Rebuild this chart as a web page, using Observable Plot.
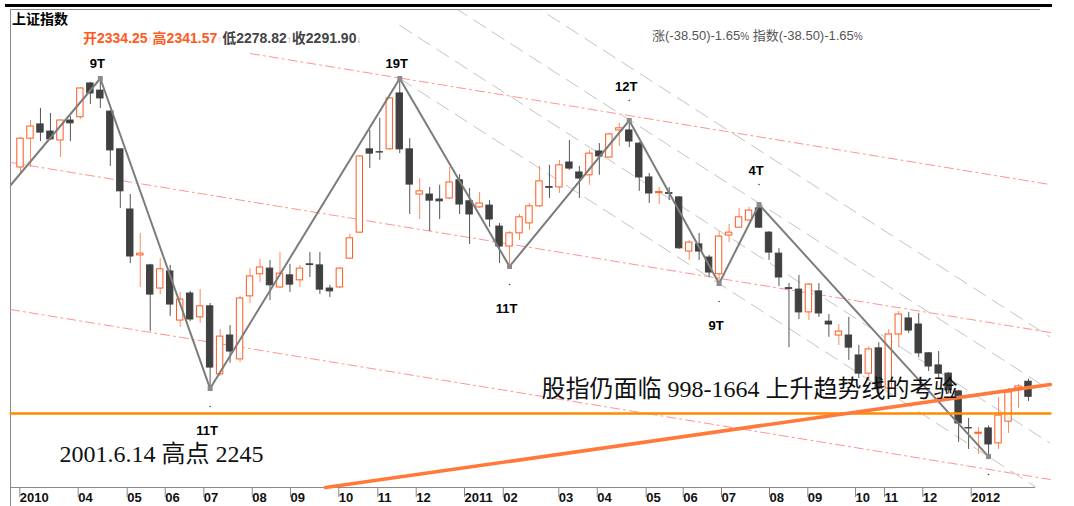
<!DOCTYPE html>
<html><head><meta charset="utf-8">
<script src="https://cdn.jsdelivr.net/npm/d3@7"></script>
<script src="https://cdn.jsdelivr.net/npm/@observablehq/plot@0.6"></script>
<style>
body{margin:0;background:#fff;}
#wrap{position:relative;width:1074px;height:506px;overflow:hidden;font-family:"Liberation Sans",Arial,"Noto Sans CJK SC",sans-serif;}
#wrap svg{position:absolute;left:0;top:0;}
.deco{position:absolute;background:#8a8a8a;}
#title{position:absolute;left:12px;top:11px;font-weight:bold;font-size:14px;line-height:16px;color:#000;}
#ohlc{position:absolute;left:83px;top:30px;font-weight:bold;font-size:14px;line-height:16px;white-space:nowrap;}
#ohlc .ar{font-size:10px;font-weight:normal;}
#chg{position:absolute;left:652px;top:28px;font-size:13px;line-height:16px;color:#555;white-space:nowrap;}
</style></head>
<body>
<div id="wrap">
  <div class="deco" style="left:5px;top:4px;width:1047px;height:3px;background:#000"></div>
  <div class="deco" style="left:10px;top:9px;width:1px;height:497px"></div>
  <div class="deco" style="left:10px;top:9px;width:1030px;height:1px"></div>
  <div class="deco" style="left:10px;top:487px;width:1025px;height:1px"></div>
</div>
<script>
// ---- weekly candles (上证指数, Feb 2010 – Feb 2012) ----
const candleOpen  = [2936,3017,3057,3037,3012,3068,3077,3172,3152,3093,2987,2818,2689,2661,2596,2644,2506,2582,2515,2546,
  2355,2464,2397,2574,2636,2652,2599,2633,2619,2664,2661,2596,2599,2680,2753,2987,2979,2987,3144,2987,
  2860,2860,2846,2849,2900,2841,2824,2829,2770,2714,2751,2779,2827,2881,2880,2950,2922,2914,2981,2964,
  3040,3040,3003,2908,2864,2864,2852,2700,2720,2683,2636,2745,2767,2787,2821,2753,2694,2597,2593,2529,
  2588,2503,2464,2464,2408,2357,2428,2315,2467,2512,2495,2414,2380,2357,2307,2204,2188,2203,2161,2222,
  2315,2334.25];
const candleHigh  = [3020,3068,3102,3088,3070,3079,3160,3175,3186,3096,2987,2860,2751,2664,2680,2661,2585,2588,2593,2554,
  2481,2492,2574,2652,2678,2675,2697,2664,2661,2697,2697,2605,2655,2748,2970,3040,3074,3133,3186,3017,
  2905,2880,2886,2936,2916,2877,2866,2843,2779,2756,2804,2835,2939,2942,2956,3012,2939,2984,3003,3032,
  3060,3068,3006,2919,2880,2880,2854,2731,2751,2689,2756,2776,2821,2824,2832,2756,2708,2610,2633,2610,
  2610,2523,2495,2515,2436,2433,2444,2481,2532,2529,2526,2416,2419,2360,2310,2231,2206,2210,2290,2315,
  2327,2341.57];
const candleLow   = [2919,2936,3009,3012,2964,3009,3071,3113,3102,2939,2821,2666,2599,2475,2579,2518,2487,2503,2498,2315,
  2349,2386,2388,2554,2613,2562,2596,2585,2599,2627,2579,2571,2596,2678,2750,2933,2956,2984,2975,2804,
  2790,2756,2790,2846,2804,2720,2821,2768,2666,2658,2731,2759,2824,2849,2863,2928,2849,2886,2914,2962,
  2995,2992,2869,2835,2832,2843,2706,2675,2675,2627,2610,2725,2765,2784,2765,2675,2602,2430,2509,2506,
  2515,2459,2436,2394,2343,2335,2296,2290,2430,2470,2402,2363,2343,2300,2164,2144,2130,2124,2144,2189,
  2259,2278.82];
const candleClose = [3017,3051,3034,3015,3068,3060,3158,3144,3130,2984,2869,2686,2694,2579,2650,2551,2565,2509,2546,2374,
  2461,2419,2568,2630,2655,2605,2638,2607,2652,2662,2593,2588,2652,2737,2967,2975,2978,3130,2987,2888,
  2869,2843,2841,2894,2832,2804,2835,2790,2714,2751,2796,2827,2897,2879,2942,2933,2905,2975,2967,3029,
  3046,3009,2908,2863,2867,2862,2709,2725,2700,2641,2742,2753,2796,2815,2767,2697,2627,2595,2529,2607,
  2526,2495,2475,2430,2357,2425,2315,2467,2523,2478,2414,2377,2357,2310,2217,2203,2191,2158,2239,2304,
  2321,2291.90];

// month tick positions (week index) and their labels
const tickAt     = [-0.07,5.78,10.69,14.5,18.37,23.22,27.05,31.89,35.8,39.65,44.49,48.37,53.94,57.79,62.69,66.4,70.24,75.05,78.89,83.67,86.57,90.41,95.26];
const tickLabels = ["2010","04","05","06","07","08","09","10","11","12","2011","02","03","04","05","06","07","08","09","10","11","12","2012"];

// zigzag wave pivots: week index and type (H = high, L = low)
const pivotIdx  = [8,19,38,49,61,70,74,97];
const pivotKind = ["H","L","H","L","H","L","H","L"];
const zigzagStart = {i:-1, p:2886};
// wave labels
const topLabelIdx = [8,38],       topLabelText = ["9T","19T"];
const highLabelIdx = [61,74],     highLabelText = ["12T","4T"];
const lowLabelIdx = [19,49,70],   lowLabelText = ["11T","11T","9T"];
const endDotIdx = [97];

// red dash-dot channel lines (start/end week index and value)
const chanStartI = [23.05,-1,-1], chanStartV = [3256,2950,2537];
const chanEndI   = [103.2,103.2,103.2], chanEndV = [2888,2472.5,2059.6];
// grey dashed fan lines (start/end)
const fanStartI = [38,38,38,38], fanStartV = [3186,3335,3484,3633];
const fanEndI   = [103.2,103.2,103.2,103.2], fanEndV = [2012,2161,2310,2459];
// 2001.6.14 high level and the 998-1664 up-trend line
const level2245 = 2245, levelFromI = -1, levelToI = 103.2;
const trendI = [30.56,103.2], trendV = [2037.1,2326.5];
// annotations
const noteText = ["2001.6.14 高点 2245","股指仍面临 998-1664 上升趋势线的考验"];
const noteI = [3.9,52.2], noteV = [2110,2291];

// ---- build tables ----
const candles = candleOpen.map((o,i)=>({i,o,h:candleHigh[i],l:candleLow[i],c:candleClose[i],up:candleClose[i]>=o}));
const pv = (idx,kind)=>({i:idx,p:kind==="H"?candleHigh[idx]:candleLow[idx]});
const pivots = pivotIdx.map((d,k)=>pv(d,pivotKind[k]));
const zigzag = [zigzagStart, ...pivots];
const chan = chanStartI.flatMap((s,k)=>[{id:k,i:s,p:chanStartV[k]},{id:k,i:chanEndI[k],p:chanEndV[k]}]);
const fan = fanStartI.flatMap((s,k)=>[{id:k,i:s,p:fanStartV[k]},{id:k,i:fanEndI[k],p:fanEndV[k]}]);
const level = [{i:levelFromI,p:level2245},{i:levelToI,p:level2245}];
const trend = trendI.map((d,k)=>({i:d,p:trendV[k]}));
const topLab = topLabelIdx.map((d,k)=>({i:d,p:candleHigh[d],t:topLabelText[k]}));
const highLab = highLabelIdx.map((d,k)=>({i:d,p:candleHigh[d],t:highLabelText[k]}));
const lowLab = lowLabelIdx.map((d,k)=>({i:d,p:candleLow[d],t:lowLabelText[k]}));
const lowDots = [...lowLabelIdx,...endDotIdx].map(d=>({i:d,p:candleLow[d]}));
const notes = noteText.map((t,k)=>({t,i:noteI[k],p:noteV[k]}));
const tickMap = new Map(tickAt.map((d,k)=>[d,tickLabels[k]]));

const UP="#ff5a1f", UPW="#ff8a5c", DN="#404040", DNW="#555";
const chart = Plot.plot({
  width:1074, height:506,
  marginTop:10, marginBottom:19, marginLeft:10, marginRight:24,
  x:{domain:[-1.002,103.206], axis:null},
  y:{domain:[2037.1,3377.0], axis:null},
  style:{background:"transparent", fontFamily:"'Liberation Sans',Arial,sans-serif", overflow:"visible"},
  marks:[
    Plot.line(chan,{x:"i",y:"p",z:"id",stroke:"#ff8080",strokeWidth:1,strokeDasharray:"9,4,2,4",strokeOpacity:0.85}),
    Plot.line(fan,{x:"i",y:"p",z:"id",stroke:"#c4c4c4",strokeWidth:1,strokeDasharray:"14,8",clip:true}),
    Plot.ruleX(candles,{x:"i",y1:"l",y2:"h",stroke:d=>d.up?UPW:DNW,strokeWidth:1}),
    Plot.rect(candles,{x1:d=>d.i-0.32,x2:d=>d.i+0.32,y1:"o",y2:"c",fill:d=>d.up?"#fff":DN,stroke:d=>d.up?UP:DN,strokeWidth:1}),
    Plot.line(zigzag,{x:"i",y:"p",stroke:"#7c7c7c",strokeWidth:2,clip:true}),
    Plot.dot(pivots,{x:"i",y:"p",symbol:"square",r:2.8,fill:"#8a8a8a"}),
    Plot.dot(highLab,{x:"i",y:"p",dy:-20,r:0.8,fill:"#444"}),
    Plot.dot(lowDots,{x:"i",y:"p",dy:18,r:0.8,fill:"#444"}),
    Plot.text(topLab,{x:"i",y:"p",text:"t",dx:-3,dy:-10,lineAnchor:"bottom",fontSize:13,fontWeight:"bold",fill:"#000"}),
    Plot.text(highLab,{x:"i",y:"p",text:"t",dx:-3,dy:-30,lineAnchor:"bottom",fontSize:13,fontWeight:"bold",fill:"#000"}),
    Plot.text(lowLab,{x:"i",y:"p",text:"t",dx:-3,dy:37,lineAnchor:"top",fontSize:13,fontWeight:"bold",fill:"#000"}),
    Plot.line(level,{x:"i",y:"p",stroke:"#ff8a00",strokeWidth:2.4}),
    Plot.line(trend,{x:"i",y:"p",stroke:"#ff7a3a",strokeWidth:3.6}),
    Plot.text(notes,{x:"i",y:"p",text:"t",textAnchor:"start",lineAnchor:"bottom",fontSize:24,
      fontFamily:"'Liberation Serif','Times New Roman','Noto Sans CJK SC',serif",fill:"#111"}),
    Plot.axisX({ticks:tickAt,tickFormat:d=>tickMap.get(d),anchor:"bottom",tickSize:10,tickPadding:-5,
      textAnchor:"start",fontSize:13,fontWeight:"bold",stroke:"#888",fill:"#111",label:null})
  ]
});
const wrap = document.getElementById("wrap");
wrap.appendChild(chart);

// header rows (last candle's values)
const last = candles[candles.length-1];
const fmt = v=>v.toFixed(2);
const t = document.createElement("div"); t.id="title"; t.textContent="上证指数"; wrap.appendChild(t);
const h = document.createElement("div"); h.id="ohlc";
h.innerHTML = `<span style="color:#ff5a1e">开${fmt(last.o)}</span><span class="ar" style="color:#ffb394">↑</span>`+
  `<span style="color:#ff5a1e">高${fmt(last.h)}</span><span class="ar" style="color:#ffb394">↑</span>`+
  `<span style="color:#444">低${fmt(last.l)}</span><span class="ar" style="color:#999">↑</span>`+
  `<span style="color:#444">收${fmt(last.c)}</span><span class="ar" style="color:#999">↓</span>`;
wrap.appendChild(h);
const g = document.createElement("div"); g.id="chg";
g.innerHTML = `涨(-38.50)-1.65<span style="font-size:10px">%</span> 指数(-38.50)-1.65<span style="font-size:10px">%</span>`;
wrap.appendChild(g);
</script>
</body></html>
